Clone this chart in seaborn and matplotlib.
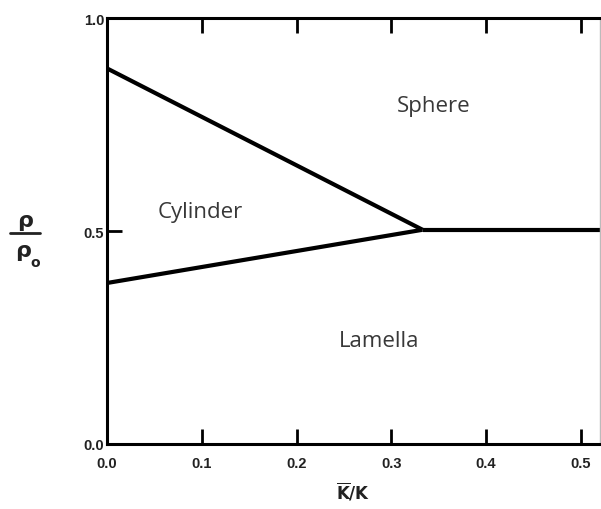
import matplotlib
matplotlib.use("Agg")
import matplotlib.pyplot as plt
from matplotlib.font_manager import FontProperties
from matplotlib.lines import Line2D
import seaborn as sns
import pandas as pd

# Phase boundaries in the (K̄/K, ρ/ρ0) plane
upper_x = [0.0, 0.333]
upper_y = [0.882, 0.503]
lower_x = [0.0, 0.333]
lower_y = [0.378, 0.503]
flat_x = [0.333, 0.52]
flat_y = [0.503, 0.503]

phase_names = ["Sphere", "Cylinder", "Lamella"]
phase_x = [0.345, 0.098, 0.287]
phase_y = [0.795, 0.545, 0.243]

x_ticks = [0.0, 0.1, 0.2, 0.3, 0.4, 0.5]
x_tick_labels = ["0.0", "0.1", "0.2", "0.3", "0.4", "0.5"]
y_ticks = [0.0, 0.5, 1.0]
y_tick_labels = ["0.0", "0.5", "1.0"]

sns.set_theme(style="white")
plt.rcParams["font.family"] = ["DejaVu Sans"]

fig = plt.figure(figsize=(6.01, 5.10), dpi=100)
ax = fig.add_axes([0.178, 0.1275, 0.82, 0.835])

segments = pd.concat([
    pd.DataFrame({"x": upper_x, "y": upper_y, "seg": "upper"}),
    pd.DataFrame({"x": lower_x, "y": lower_y, "seg": "lower"}),
    pd.DataFrame({"x": flat_x, "y": flat_y, "seg": "flat"}),
])
sns.lineplot(data=segments, x="x", y="y", units="seg", estimator=None,
             color="black", linewidth=3.0, ax=ax, legend=False,
             solid_capstyle="butt")

for name, px, py in zip(phase_names, phase_x, phase_y):
    ax.text(px, py, name, ha="center", va="center", fontsize=16,
            color="#383838", family="Open Sans")

ax.set_xlim(0.0, 0.52)
ax.set_ylim(0.0, 1.0)
ax.set_xticks(x_ticks)
ax.set_xticklabels(x_tick_labels)
ax.set_yticks(y_ticks)
ax.set_yticklabels(y_tick_labels)

tick_fp = FontProperties(family=["Liberation Sans Narrow", "Liberation Sans"],
                         weight="bold", size=10.5)
for lbl in ax.get_xticklabels() + ax.get_yticklabels():
    lbl.set_fontproperties(tick_fp)
    lbl.set_color("#222222")

ax.tick_params(axis="x", direction="in", length=11, width=2.0, color="black",
               top=True, bottom=True, pad=9)
ax.tick_params(axis="y", direction="in", length=11, width=2.0, color="black",
               left=True, right=False, pad=2)

for side in ["left", "bottom", "top"]:
    ax.spines[side].set_color("black")
    ax.spines[side].set_linewidth(2.2)
ax.spines["right"].set_color("#bbbbbb")
ax.spines["right"].set_linewidth(1.0)

ax.set_xlabel(r"$\mathbf{\overline{K}/K}$", fontsize=12,
              labelpad=7, color="#222222")
ax.set_ylabel("")

# Fraction-style y label: ρ over ρo
fig.text(0.042, 0.566, "ρ", ha="center", va="center", fontsize=16,
         fontweight="bold", color="#222222")
fig.lines.append(Line2D([0.017, 0.067], [0.541, 0.541],
                        transform=fig.transFigure,
                        color="#222222", linewidth=2))
fig.text(0.038, 0.507, "ρ", ha="center", va="center", fontsize=16,
         fontweight="bold", color="#222222")
fig.text(0.058, 0.484, "o", ha="center", va="center", fontsize=10,
         fontweight="bold", color="#222222")

fig.savefig("out.png", dpi=100, facecolor="white")
